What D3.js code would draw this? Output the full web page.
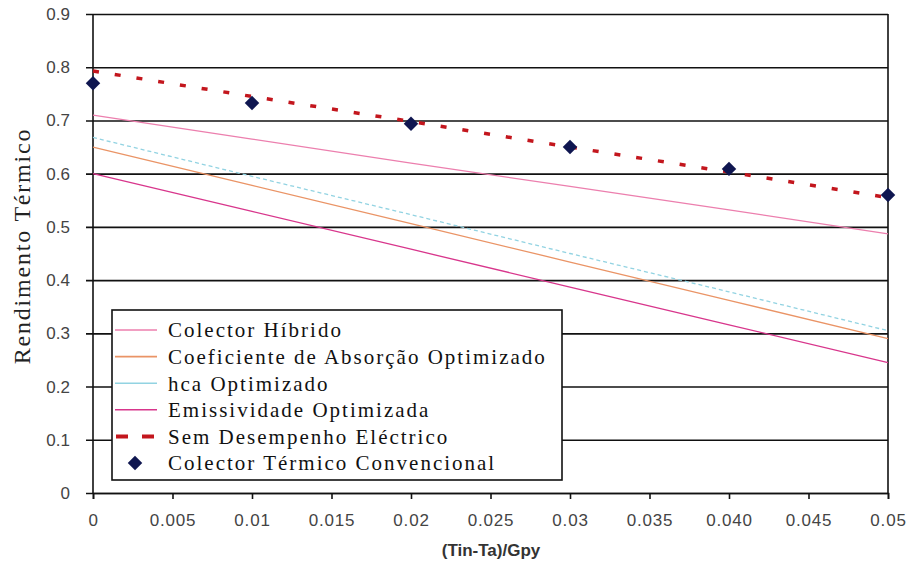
<!DOCTYPE html>
<html>
<head>
<meta charset="utf-8">
<script src="https://cdn.jsdelivr.net/npm/d3@7"></script>
<style>
  body { margin: 0; background: #fff; }
</style>
</head>
<body>
<div class="container"></div>
<script>
const width = 913;
const height = 563;
const margin = { top: 14, right: 25, bottom: 70, left: 93 }

// data
const xValues = [0, 0.01, 0.02, 0.03, 0.04, 0.05];
const xTicks = [0, 0.005, 0.01, 0.015, 0.02, 0.025, 0.03, 0.035, 0.04, 0.045, 0.05];
const xTickLabels = ["0", "0.005", "0.01", "0.015", "0.02", "0.025", "0.03", "0.035", "0.040", "0.045", "0.05"];
const yTicks = [0, 0.1, 0.2, 0.3, 0.4, 0.5, 0.6, 0.7, 0.8, 0.9];
const yTickLabels = ["0", "0.1", "0.2", "0.3", "0.4", "0.5", "0.6", "0.7", "0.8", "0.9"];

const hibrido = [0.71, 0.665, 0.62, 0.576, 0.532, 0.487];
const absorcao = [0.65, 0.578, 0.506, 0.434, 0.362, 0.29];
const hca = [0.668, 0.595, 0.523, 0.45, 0.378, 0.305];
const emissividade = [0.60, 0.529, 0.458, 0.387, 0.316, 0.245];
const semElectrico = [0.793, 0.745, 0.698, 0.65, 0.603, 0.555];
const convencional = [0.77, 0.733, 0.694, 0.65, 0.609, 0.56];

const seriesNames = ["Colector Híbrido", "Coeficiente de Absorção Optimizado", "hca Optimizado",
    "Emissividade Optimizada", "Sem Desempenho Eléctrico", "Colector Térmico Convencional"];

const svg = d3.select(".container")
    .append("svg")
    .attr("width", width)
    .attr("height", height)

const x = d3.scaleLinear().domain([0, 0.05]).range([margin.left, width - margin.right])
const y = d3.scaleLinear().domain([0, 0.9]).range([height - margin.bottom, margin.top])

// horizontal grid lines, running a bit left of the axis as ticks
svg.append("g")
    .attr("transform", `translate(${width - margin.right},0)`)
    .call(d3.axisLeft(y).tickValues(yTicks).tickFormat("").tickSize(width - margin.right - margin.left + 7))
    .call(g => g.select(".domain").remove())
    .call(g => g.selectAll("line").attr("stroke", "#111").attr("stroke-width", 1.6))

// y labels
svg.append("g")
    .selectAll("text")
    .data(yTicks)
    .join("text")
    .attr("x", 70)
    .attr("y", d => y(d))
    .attr("dy", "0.35em")
    .attr("text-anchor", "end")
    .attr("font-family", "Liberation Sans, Arial, sans-serif")
    .attr("font-size", 17)
    .attr("fill", "#444")
    .text((d, i) => yTickLabels[i])

// x axis
svg.append("g")
    .attr("transform", `translate(0,${y(0)})`)
    .call(d3.axisBottom(x).tickValues(xTicks).tickFormat((d, i) => xTickLabels[i]).tickSize(6).tickPadding(15))
    .call(g => g.select(".domain").attr("stroke", "#111").attr("stroke-width", 1.6))
    .call(g => g.selectAll("line").attr("stroke", "#111").attr("stroke-width", 1.6))
    .call(g => g.selectAll("text")
        .attr("font-family", "Liberation Sans, Arial, sans-serif")
        .attr("font-size", 17)
        .attr("letter-spacing", 0.8)
        .attr("fill", "#444"))

// left and right borders
svg.append("line")
    .attr("x1", x(0)).attr("x2", x(0))
    .attr("y1", y(0.9)).attr("y2", y(0))
    .attr("stroke", "#111").attr("stroke-width", 1.6)
svg.append("line")
    .attr("x1", x(0.05)).attr("x2", x(0.05))
    .attr("y1", y(0.9)).attr("y2", y(0))
    .attr("stroke", "#111").attr("stroke-width", 1.6)

const line = d3.line()
    .x((d, i) => x(xValues[i]))
    .y(d => y(d))

const styles = [
    { data: hibrido, color: "#ec7fae", w: 1.3, dash: null },
    { data: absorcao, color: "#ea9466", w: 1.3, dash: null },
    { data: hca, color: "#92d3e2", w: 1.3, dash: "4,3" },
    { data: emissividade, color: "#d8368c", w: 1.3, dash: null },
    { data: semElectrico, color: "#c3161d", w: 3.5, dash: "6,16" }
]

styles.forEach(s => {
    svg.append("path")
        .datum(s.data)
        .attr("d", line)
        .attr("fill", "none")
        .attr("stroke", s.color)
        .attr("stroke-width", s.w)
        .attr("stroke-dasharray", s.dash)
})

const diamond = d3.symbol().type(d3.symbolSquare).size(105)

svg.append("g")
    .selectAll("path")
    .data(convencional)
    .join("path")
    .attr("d", diamond)
    .attr("transform", (d, i) => `translate(${x(xValues[i])},${y(d)}) rotate(45)`)
    .attr("fill", "#0f1650")

// legend
const lg = svg.append("g")
lg.append("rect")
    .attr("x", 112).attr("y", 310)
    .attr("width", 450).attr("height", 170)
    .attr("fill", "#fff")
    .attr("stroke", "#111")
    .attr("stroke-width", 1.6)

const rowY = d3.scaleLinear().domain([0, 5]).range([330, 463])

styles.forEach((s, i) => {
    if (i < 4) {
        lg.append("line")
            .attr("x1", 115).attr("x2", 157)
            .attr("y1", rowY(i)).attr("y2", rowY(i))
            .attr("stroke", s.color).attr("stroke-width", 1.6)
    } else {
        lg.append("line")
            .attr("x1", 116).attr("x2", 156)
            .attr("y1", rowY(i)).attr("y2", rowY(i))
            .attr("stroke", s.color).attr("stroke-width", 4)
            .attr("stroke-dasharray", "12,14")
    }
})
lg.append("path")
    .attr("d", diamond)
    .attr("transform", `translate(135,${rowY(5)}) rotate(45)`)
    .attr("fill", "#0f1650")

lg.selectAll("text")
    .data(seriesNames)
    .join("text")
    .attr("x", 168)
    .attr("y", (d, i) => rowY(i))
    .attr("dy", "0.35em")
    .attr("font-family", "Liberation Serif, Times New Roman, serif")
    .attr("font-size", 21)
    .attr("letter-spacing", 2)
    .attr("fill", "#111")
    .text(d => d)

// axis titles
svg.append("text")
    .attr("transform", "translate(30,246) rotate(-90)")
    .attr("text-anchor", "middle")
    .attr("font-family", "Liberation Serif, Times New Roman, serif")
    .attr("font-size", 24)
    .attr("letter-spacing", 1.8)
    .attr("fill", "#222")
    .text("Rendimento Térmico")

svg.append("text")
    .attr("x", 491)
    .attr("y", 556)
    .attr("text-anchor", "middle")
    .attr("font-family", "Liberation Sans, Arial, sans-serif")
    .attr("font-size", 17)
    .attr("font-weight", "bold")
    .attr("fill", "#333")
    .text("(Tin-Ta)/Gpy")
</script>
</body>
</html>
